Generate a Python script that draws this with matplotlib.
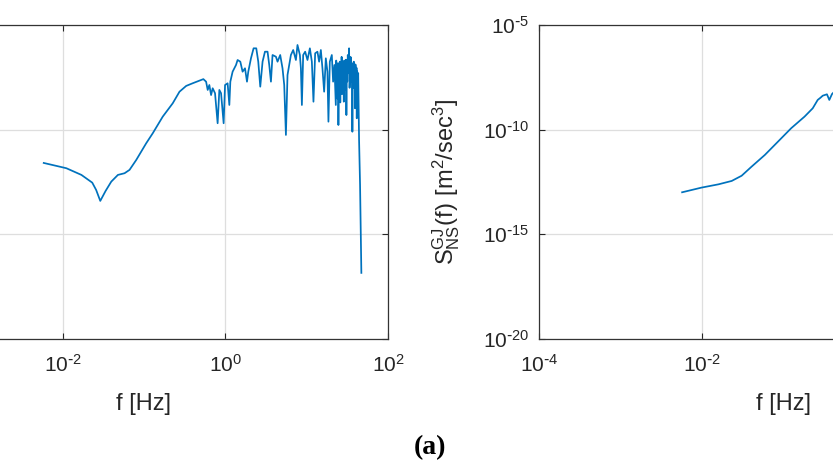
import numpy as np
import matplotlib
matplotlib.use("Agg")
import matplotlib.pyplot as plt
from matplotlib.ticker import NullLocator

# left panel spectrum (f in Hz)
f_left = [0.00585, 0.0111, 0.0170, 0.0231, 0.0258, 0.0290, 0.0337, 0.0396, 0.0478, 0.0577,
          0.0664, 0.0802, 0.1064, 0.128, 0.170, 0.2255, 0.273, 0.330, 0.397, 0.503,
          0.537, 0.580, 0.607, 0.636, 0.668, 0.699, 0.747, 0.804, 0.844, 0.886,
          0.953, 0.992, 1.067, 1.120, 1.152, 1.229, 1.353, 1.415, 1.528, 1.630,
          1.745, 1.846, 1.915, 2.067, 2.225, 2.401, 2.541, 2.688, 2.869, 3.070,
          3.304, 3.467, 3.637, 3.805, 4.190, 4.383, 4.729, 5.047, 5.298, 5.557,
          5.814, 6.100, 6.400, 6.831, 7.372, 7.712, 8.254, 8.490, 8.734, 9.060,
          9.585, 10.23, 10.95, 11.58, 12.12, 12.72, 13.57, 14.23, 14.94, 15.63,
          16.40, 17.20, 18.00, 18.52, 19.26, 20.38, 21.14, 21.93, 22.82, 23.1,
          23.4, 23.67, 24.0, 24.3, 24.56, 24.9, 25.2, 25.55, 25.9, 26.2,
          26.51, 26.9, 27.2, 27.50, 27.9, 28.2, 28.61, 29.0, 29.3, 29.68,
          30.1, 30.4, 30.79, 31.2, 31.6, 32.03, 32.6, 33.22, 33.7, 34.17,
          34.6, 35.16, 35.6, 36.0, 36.48, 37.0, 37.5, 37.95, 38.5, 38.9,
          39.37, 39.8, 40.16, 40.7, 41.0, 41.30, 41.8, 42.1, 42.49, 43.0,
          43.5, 44.09, 45.34, 46.11, 47.04]
s_left = [2.57e-12, 1.44e-12, 6.9e-13, 2.95e-13, 1.32e-13, 3.95e-14, 1.18e-13, 3.3e-13, 6.9e-13, 8.3e-13,
          1.2e-12, 3.55e-12, 2.24e-11, 6.7e-11, 4.2e-10, 1.82e-9, 6.5e-9, 1.23e-8, 1.65e-8, 2.35e-8,
          2.6e-8, 1.96e-8, 7.9e-9, 1.36e-8, 4.5e-9, 9.5e-9, 5.5e-9, 2.02e-10, 7.9e-9, 5.5e-9,
          2.02e-10, 1.36e-8, 1.64e-8, 1.51e-9, 1.96e-8, 5.89e-8, 1.23e-7, 2.13e-7, 1.77e-7, 5.89e-8,
          8.55e-8, 1.96e-8, 5.89e-8, 2.57e-7, 7.7e-7, 7.7e-7, 1.77e-7, 1.13e-8, 1.77e-7, 5.31e-7,
          5.31e-7, 1.23e-7, 1.96e-8, 3.69e-7, 3.06e-7, 1.77e-7, 3.69e-7, 8.55e-8, 1.36e-8, 5.6e-11,
          4.09e-8, 1.23e-7, 3.69e-7, 6.4e-7, 2.13e-7, 1.11e-6, 3.69e-7, 8.55e-8, 1.51e-9, 3.69e-7,
          5.31e-7, 2.13e-7, 7.7e-7, 1.77e-7, 2.17e-9, 4.46e-7, 5.31e-7, 1.77e-7, 6.4e-7, 8.55e-8,
          6.5e-9, 2.57e-7, 5.89e-8, 2.41e-10, 1.77e-7, 3.69e-7, 1.96e-8, 1.23e-7, 1.51e-9, 2.0e-7,
          1.0e-8, 8.55e-8, 3e-9, 1.5e-7, 1.67e-10, 6e-8, 1.2e-8, 1.77e-7, 2e-9, 1.0e-7,
          1.36e-8, 3.0e-7, 5e-9, 1.77e-7, 2e-8, 1.5e-7, 2.17e-9, 2.0e-7, 8e-9, 1.23e-7,
          1.5e-8, 2.2e-7, 5.0e-10, 1.0e-7, 2e-8, 3.69e-7, 5e-8, 7.7e-7, 1e-8, 4.09e-8,
          3e-7, 2.57e-7, 2e-8, 1.5e-7, 8.0e-11, 1.0e-7, 1e-8, 1.77e-7, 3e-8, 1.2e-7,
          1.05e-9, 1.3e-7, 8.55e-8, 5e-9, 9e-8, 3.5e-10, 6e-8, 6e-9, 1.36e-8, 5e-8,
          2e-9, 3.2e-11, 2.29e-13, 2.8e-15, 1.44e-17]

# right panel spectrum
f_right = [0.00575, 0.00991, 0.0161, 0.0234, 0.0310, 0.0410, 0.0598, 0.0869, 0.126, 0.184,
           0.232, 0.267, 0.29, 0.308, 0.347, 0.371, 0.40, 0.45, 0.5]
s_right = [1.02e-13, 1.70e-13, 2.45e-13, 3.55e-13, 6.3e-13, 1.7e-12, 6.2e-12, 2.7e-11, 1.17e-10, 4.2e-10,
           1.05e-9, 2.63e-9, 3.4e-9, 4.2e-9, 4.9e-9, 2.63e-9, 5e-9, 8e-9, 1.2e-8]

xticks = [1e-4, 1e-2, 1e0, 1e2]
yticks = [1e-20, 1e-15, 1e-10, 1e-5]
xlabels_left = ['', r'$10^{\text{-}2}$', r'$10^{0}$', r'$10^{2}$']
xlabels_right = [r'$10^{\text{-}4}$', r'$10^{\text{-}2}$', '', '']
ylabels_right = [r'$10^{\text{-}20}$', r'$10^{\text{-}15}$', r'$10^{\text{-}10}$', r'$10^{\text{-}5}$']

plt.rcParams['font.family'] = ['Liberation Sans', 'DejaVu Sans']
plt.rcParams['mathtext.default'] = 'regular'
plt.rcParams['axes.unicode_minus'] = False
txt = '#262626'
blue = '#0072BD'

fig = plt.figure(figsize=(8.33, 4.69), dpi=100)
W, H = 833.0, 469.0

def setup(ax, xlabs):
	ax.set_xscale('log')
	ax.set_yscale('log')
	ax.set_xlim(1e-4, 1e2)
	ax.set_ylim(1e-20, 1e-5)
	ax.set_xticks(xticks)
	ax.set_xticklabels(xlabs)
	ax.set_yticks(yticks)
	ax.xaxis.set_minor_locator(NullLocator())
	ax.yaxis.set_minor_locator(NullLocator())
	ax.grid(True, color='#dedede', lw=0.9)
	ax.set_axisbelow(True)
	ax.tick_params(direction='in', length=4, width=0.8, top=True, right=True,
		labelsize=15, colors=txt, pad=7)
	ax.tick_params(axis='x', pad=11)
	for s in ax.spines.values():
		s.set_color('#333333')
		s.set_linewidth(0.9)
	ax.set_xlabel('f [Hz]', fontsize=17, color=txt)
	ax.xaxis.set_label_coords(0.5, (339 - 393) / 314.0)

ax1 = fig.add_axes([-100 / W, (H - 339) / H, 488 / W, 314 / H])
setup(ax1, xlabels_left)
ax1.tick_params(axis='y', labelleft=False)
ax1.plot(f_left, s_left, color=blue, lw=1.25)

ax2 = fig.add_axes([539 / W, (H - 339) / H, 488 / W, 314 / H])
setup(ax2, xlabels_right)
ax2.set_yticklabels(ylabels_right)
ax2.plot(f_right, s_right, color=blue, lw=1.25)
ax2.set_ylabel(r'$\mathregular{S_{NS}^{GJ}(f)\ [m^2/sec^3]}$', fontsize=17, color=txt)
ax2.yaxis.set_label_coords((462 - 539) / 488.0, 0.5)

fig.text(430 / W, 1 - 448 / H, '(a)', ha='center', va='center', fontsize=20,
	fontweight='bold', family='Liberation Serif', color='black')

fig.savefig('out.png', dpi=100)
